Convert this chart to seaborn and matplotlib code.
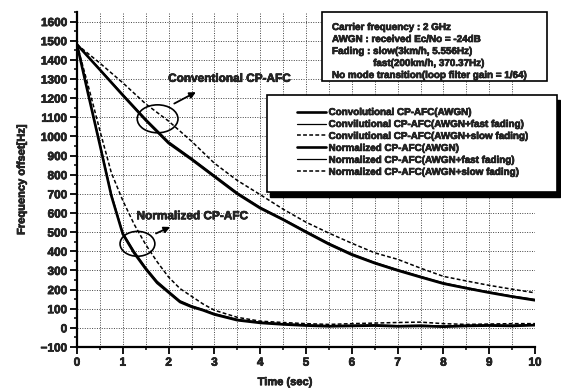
import matplotlib
matplotlib.use("Agg")
import matplotlib.pyplot as plt
import matplotlib.patches as mpatches
import matplotlib.patheffects as pe
from matplotlib.ticker import MultipleLocator
import seaborn as sns

# ---------------- data ----------------
conv_t = [0, 0.5, 1, 1.5, 2, 2.5, 3, 3.5, 4, 4.5, 5, 5.5, 6, 6.5, 7, 7.5, 8, 8.5, 9, 9.5, 10]
conv_awgn = [1480, 1348, 1215, 1085, 965, 880, 790, 700, 625, 565, 500, 437, 382, 338, 300, 265, 231, 207, 184, 163, 144]
conv_fast = [1480, 1352, 1221, 1092, 973, 887, 797, 707, 631, 570, 506, 443, 388, 343, 305, 270, 236, 211, 188, 167, 149]
conv_slow = [1480, 1383, 1280, 1170, 1080, 975, 860, 770, 696, 620, 552, 495, 442, 392, 358, 312, 269, 245, 222, 202, 183]

norm_t = [0, 0.25, 0.5, 0.75, 1, 1.25, 1.5, 1.75, 2, 2.25, 2.5, 2.75, 3, 3.5, 4, 4.5, 5, 5.5, 6, 6.5, 7, 7.5, 8, 8.5, 9, 9.5, 10]
norm_awgn = [1480, 1215, 955, 690, 490, 390, 308, 235, 185, 135, 110, 92, 70, 40, 26, 18, 12, 8, 10, 12, 8, 10, 6, 10, 12, 10, 14]
norm_fast = [1480, 1222, 965, 700, 498, 400, 316, 244, 192, 142, 116, 97, 75, 45, 30, 22, 16, 12, 14, 16, 12, 14, 10, 14, 16, 14, 18]
norm_slow = [1480, 1260, 1030, 810, 665, 540, 435, 345, 265, 205, 165, 125, 92, 55, 35, 28, 22, 18, 22, 25, 28, 30, 22, 18, 20, 22, 22]

legend_labels = [
    "Convolutional CP-AFC(AWGN)",
    "Convilutional CP-AFC(AWGN+fast fading)",
    "Convilutional CP-AFC(AWGN+slow fading)",
    "Normalized CP-AFC(AWGN)",
    "Normalized CP-AFC(AWGN+fast fading)",
    "Normalized CP-AFC(AWGN+slow fading)",
]
info_lines = [
    "Carrier frequency : 2 GHz",
    "AWGN : received Ec/No = -24dB",
    "Fading : slow(3km/h, 5.556Hz)",
    "               fast(200km/h, 370.37Hz)",
    "No mode transition(loop filter gain = 1/64)",
]
x_ticks = list(range(0, 11))
y_ticks = list(range(-100, 1700, 100))

# ---------------- style ----------------
sns.set_theme(style="ticks")
plt.rcParams["font.family"] = ["Liberation Sans", "DejaVu Sans"]
plt.rcParams["font.weight"] = "bold"
heavy = [pe.withStroke(linewidth=0.45, foreground="black")]

W, H = 561, 391
fig = plt.figure(figsize=(W / 100, H / 100), dpi=100)
fig.patch.set_facecolor("white")
L, R, T, B = 77, 535, 12, 347
ax = fig.add_axes([L / W, 1 - B / H, (R - L) / W, (B - T) / H])
ax.set_facecolor("white")

dash = (0, (2.5, 1.5))
series = [
    (conv_t, conv_awgn, "-", 1.9),
    (conv_t, conv_fast, "-", 0.9),
    (conv_t, conv_slow, dash, 1.1),
    (norm_t, norm_awgn, "-", 1.9),
    (norm_t, norm_fast, "-", 0.9),
    (norm_t, norm_slow, dash, 1.1),
]
for (tx, vy, ls, lw), lab in zip(series, legend_labels):
    sns.lineplot(x=tx, y=vy, ax=ax, color="black", linestyle=ls, linewidth=lw,
                 label=lab, zorder=3)
handles, labels = ax.get_legend_handles_labels()
if ax.get_legend() is not None:
    ax.get_legend().remove()

ax.set_xlim(0, 10)
ax.set_ylim(-100, 1650)
ax.set_xticks(x_ticks)
ax.set_yticks(y_ticks)
ax.xaxis.set_minor_locator(MultipleLocator(0.5))
ax.yaxis.set_minor_locator(MultipleLocator(50))
ax.grid(True, which="major", axis="both", linestyle=(0, (1, 1.5)), color="#444444", linewidth=0.7)
ax.grid(True, which="minor", axis="x", linestyle=(0, (1, 1.5)), color="#444444", linewidth=0.7)
ax.set_axisbelow(True)

for s in ["top", "right"]:
    ax.spines[s].set_visible(False)
for s in ["left", "bottom"]:
    ax.spines[s].set_linewidth(1.6)
    ax.spines[s].set_color("black")
ax.tick_params(which="major", direction="out", length=5, width=1.3, color="black",
               labelsize=8.5, pad=2)
ax.tick_params(which="minor", direction="out", length=2.5, width=1.1, color="black")
for lbl in ax.get_xticklabels() + ax.get_yticklabels():
    lbl.set_fontweight("bold")
    lbl.set_path_effects(heavy)

ax.set_xlabel("Time (sec)", fontsize=8, fontweight="bold")
ax.xaxis.set_label_coords(0.454, -0.09)
ax.set_ylabel("Frequency offset[Hz]", fontsize=8, fontweight="bold")
ax.yaxis.set_label_coords(-0.11, 0.5)
ax.xaxis.label.set_path_effects(heavy)
ax.yaxis.label.set_path_effects(heavy)

# ellipses, arrows and annotations
ax.add_patch(mpatches.Ellipse((1.76, 1092), 0.89, 146, fill=False, edgecolor="black", lw=1.2, zorder=4))
ax.add_patch(mpatches.Ellipse((1.32, 439), 0.76, 130, fill=False, edgecolor="black", lw=1.2, zorder=4))
ax.annotate("", xy=(2.65, 1238), xytext=(2.07, 1165),
            arrowprops=dict(arrowstyle="-|>", color="black", lw=1.3, mutation_scale=9), zorder=4)
ax.annotate("", xy=(2.09, 533), xytext=(1.67, 487),
            arrowprops=dict(arrowstyle="-|>", color="black", lw=1.3, mutation_scale=9), zorder=4)
ax.text(1.99, 1301, "Conventional CP-AFC", fontsize=8.5, fontweight="bold", va="center", ha="left",
        zorder=4, path_effects=heavy)
ax.text(1.30, 583, "Normalized CP-AFC", fontsize=8.5, fontweight="bold", va="center", ha="left",
        zorder=4, path_effects=heavy)

# legend box with shadow
lx0, lx1, ly0, ly1 = 267, 557, 95, 192
fig.patches.append(mpatches.Rectangle((lx0 / W + 3 / W, 1 - (ly1 + 5) / H), (lx1 - lx0) / W, (ly1 - ly0) / H,
                                      transform=fig.transFigure, facecolor="black", edgecolor="black", zorder=6))
fig.patches.append(mpatches.Rectangle((lx0 / W, 1 - ly1 / H), (lx1 - lx0) / W, (ly1 - ly0) / H,
                                      transform=fig.transFigure, facecolor="white", edgecolor="black", lw=1.2, zorder=7))
leg = fig.legend(handles, labels, loc="upper left", bbox_to_anchor=(297 / W, 1 - 107 / H),
                 frameon=False, fontsize=7.1, handlelength=2.9, handletextpad=0.3,
                 labelspacing=0.2, borderpad=0, borderaxespad=0)
leg.set_zorder(8)
for t in leg.get_texts():
    t.set_fontweight("bold")
    t.set_path_effects(heavy)

# info box
ix0, ix1, iy0, iy1 = 322, 547, 12, 81
fig.patches.append(mpatches.Rectangle((ix0 / W, 1 - iy1 / H), (ix1 - ix0) / W, (iy1 - iy0) / H,
                                      transform=fig.transFigure, facecolor="white", edgecolor="black", lw=1.2, zorder=7))
for i, line in enumerate(info_lines):
    fig.text(332 / W, 1 - (27 + 12 * i) / H, line, fontsize=7.1, fontweight="bold",
             va="center", ha="left", zorder=8, path_effects=heavy)

fig.savefig("out.png", dpi=100, facecolor="white")
